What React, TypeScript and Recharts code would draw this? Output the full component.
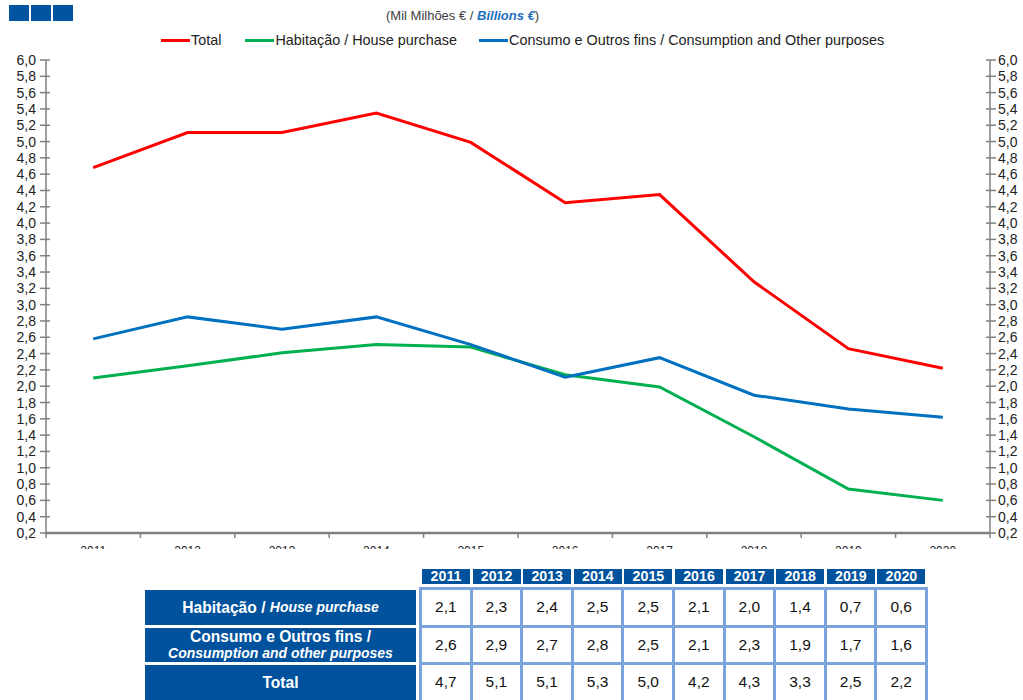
import { LineChart, Line, XAxis, YAxis } from "recharts";

const years = ["2011", "2012", "2013", "2014", "2015", "2016", "2017", "2018", "2019", "2020"];
const totalSeries = [4.68, 5.11, 5.11, 5.35, 4.99, 4.25, 4.35, 3.28, 2.46, 2.22];
const houseSeries = [2.1, 2.25, 2.41, 2.51, 2.48, 2.14, 1.99, 1.38, 0.74, 0.6];
const consumerSeries = [2.58, 2.85, 2.7, 2.85, 2.51, 2.11, 2.35, 1.89, 1.72, 1.62];

const houseTable = [2.1, 2.3, 2.4, 2.5, 2.5, 2.1, 2.0, 1.4, 0.7, 0.6];
const consumerTable = [2.6, 2.9, 2.7, 2.8, 2.5, 2.1, 2.3, 1.9, 1.7, 1.6];
const totalTable = [4.7, 5.1, 5.1, 5.3, 5.0, 4.2, 4.3, 3.3, 2.5, 2.2];

const yTicks = [
  0.2, 0.4, 0.6, 0.8, 1.0, 1.2, 1.4, 1.6, 1.8, 2.0, 2.2, 2.4, 2.6, 2.8, 3.0,
  3.2, 3.4, 3.6, 3.8, 4.0, 4.2, 4.4, 4.6, 4.8, 5.0, 5.2, 5.4, 5.6, 5.8, 6.0,
];

const legendItems = [
  { name: "Total", color: "#ff0000" },
  { name: "Habitação / House purchase", color: "#00b050" },
  { name: "Consumo e Outros fins / Consumption and Other purposes", color: "#0070c0" },
];

const FONT = "'Liberation Sans', Arial, sans-serif";
const AXIS = "#808080";
const NAVY = "#00529c";
const CHART_W = 1023;
const LEFT_W = 46;
const RIGHT_W = 33;
const bandW = (CHART_W - LEFT_W - RIGHT_W) / years.length;

const data = years.map((year, i) => ({
  year,
  total: totalSeries[i],
  house: houseSeries[i],
  consumer: consumerSeries[i],
}));

const fmt = (v: number) => v.toFixed(1).replace(".", ",");

const LeftTick = (props: any) => {
  const { x, y, payload } = props;
  const ax = x + 9;
  return (
    <g>
      <line x1={ax - 6} x2={ax + 4} y1={y} y2={y} stroke={AXIS} strokeWidth={1.5} />
      <text x={x - 1} y={y} dy={5} textAnchor="end" fontSize={14} fill="#222" fontFamily={FONT}>
        {fmt(payload.value)}
      </text>
    </g>
  );
};

const RightTick = (props: any) => {
  const { x, y, payload } = props;
  const ax = x - 7;
  return (
    <g>
      <line x1={ax - 4} x2={ax + 6} y1={y} y2={y} stroke={AXIS} strokeWidth={1.5} />
      <text x={x + 1} y={y} dy={5} textAnchor="start" fontSize={14} fill="#222" fontFamily={FONT}>
        {fmt(payload.value)}
      </text>
    </g>
  );
};

const BottomTick = (props: any) => {
  const { x, y, payload, index } = props;
  const left = x - bandW / 2;
  const right = x + bandW / 2;
  return (
    <g>
      <line x1={left} x2={left} y1={y} y2={y + 5} stroke={AXIS} strokeWidth={1.5} />
      {index === years.length - 1 && (
        <line x1={right} x2={right} y1={y} y2={y + 5} stroke={AXIS} strokeWidth={1.5} />
      )}
      <text x={x} y={y + 22} textAnchor="middle" fontSize={12} fill="#222" fontFamily={FONT}>
        {payload.value}
      </text>
    </g>
  );
};

const labelCell = {
  position: "absolute" as const,
  left: 145,
  width: 271,
  background: NAVY,
  color: "#fff",
  fontFamily: FONT,
  fontWeight: "bold" as const,
  fontSize: 15.6,
  display: "flex",
  flexDirection: "column" as const,
  alignItems: "center",
  justifyContent: "center",
  lineHeight: "17px",
};

export default function App() {
  const rows = [houseTable, consumerTable, totalTable];
  return (
    <div style={{ position: "absolute", left: 0, top: 0, width: 1023, height: 700, background: "#fff", overflow: "hidden" }}>
      {[0, 1, 2].map((i) => (
        <div key={i} style={{ position: "absolute", left: 9 + i * 22, top: 5, width: 20, height: 16, background: "#0054a0" }} />
      ))}
      <div style={{ position: "absolute", left: 386, top: 8, fontFamily: FONT, fontSize: 13, color: "#404040" }}>
        (Mil Milhões € / <span style={{ color: "#1f6fc0", fontWeight: "bold", fontStyle: "italic" }}>Billions €</span>)
      </div>

      <div style={{ position: "absolute", left: 161, top: 32, display: "flex", fontFamily: FONT, fontSize: 14.4, color: "#222" }}>
        {legendItems.map((p, i) => (
          <div key={i} style={{ display: "flex", alignItems: "center", marginRight: i === 0 ? 24 : 22 }}>
            <span style={{ width: 29, height: 3, background: p.color, display: "inline-block", marginRight: 1 }} />
            <span>{p.name}</span>
          </div>
        ))}
      </div>

      <div style={{ position: "absolute", left: 0, top: 0, width: CHART_W, height: 549, overflow: "hidden" }}>
        <LineChart width={CHART_W} height={560} data={data} margin={{ top: 60, right: 0, bottom: 7, left: 0 }}>
          <XAxis
            dataKey="year"
            height={20}
            padding={{ left: bandW / 2, right: bandW / 2 }}
            axisLine={{ stroke: AXIS, strokeWidth: 2.5 }}
            tickLine={false}
            tickSize={0}
            tickMargin={0}
            tick={<BottomTick />}
            interval={0}
          />
          <YAxis
            yAxisId="left"
            width={LEFT_W}
            domain={[0.2, 6.0]}
            ticks={yTicks}
            interval={0}
            allowDataOverflow
            axisLine={{ stroke: AXIS, strokeWidth: 1.5 }}
            tickLine={false}
            tickSize={0}
            tickMargin={9}
            tick={<LeftTick />}
          />
          <YAxis
            yAxisId="right"
            orientation="right"
            width={RIGHT_W}
            domain={[0.2, 6.0]}
            ticks={yTicks}
            interval={0}
            allowDataOverflow
            axisLine={{ stroke: AXIS, strokeWidth: 1.5 }}
            tickLine={false}
            tickSize={0}
            tickMargin={7}
            tick={<RightTick />}
          />
          <Line yAxisId="left" type="linear" dataKey="total" name="Total" stroke="#ff0000" strokeWidth={3} dot={false} isAnimationActive={false} />
          <Line yAxisId="left" type="linear" dataKey="house" name="Habitação / House purchase" stroke="#00b050" strokeWidth={3} dot={false} isAnimationActive={false} />
          <Line yAxisId="right" type="linear" dataKey="consumer" name="Consumo e Outros fins / Consumption and Other purposes" stroke="#0070c0" strokeWidth={3} dot={false} isAnimationActive={false} />
        </LineChart>
      </div>

      {years.map((y, c) => (
        <div
          key={y}
          style={{
            position: "absolute",
            left: 422 + c * 50.6,
            top: 569,
            width: 48,
            height: 15,
            background: NAVY,
            color: "#fff",
            fontFamily: FONT,
            fontWeight: "bold",
            fontSize: 14.2,
            lineHeight: "15px",
            textAlign: "center",
          }}
        >
          {y}
        </div>
      ))}

      <div style={{ ...labelCell, top: 590, height: 35, flexDirection: "row" }}>
        <span>Habitação /&nbsp;</span>
        <span style={{ fontStyle: "italic", fontSize: 14 }}>House purchase</span>
      </div>
      <div style={{ ...labelCell, top: 628, height: 34 }}>
        <span>Consumo e Outros fins /</span>
        <span style={{ fontStyle: "italic", fontSize: 14 }}>Consumption and other purposes</span>
      </div>
      <div style={{ ...labelCell, top: 665, height: 35 }}>
        <span>Total</span>
      </div>

      {rows.map((row, r) =>
        row.map((v, c) => (
          <div
            key={`${r}-${c}`}
            style={{
              position: "absolute",
              left: 419 + c * 50.6,
              top: 587 + r * 37.5,
              width: 53.6,
              height: 40.5,
              boxSizing: "border-box",
              border: "3px solid #7ca4dc",
              background: "#fff",
              display: "flex",
              alignItems: "center",
              justifyContent: "center",
              fontFamily: FONT,
              fontSize: 15.5,
              color: "#111",
            }}
          >
            {fmt(v)}
          </div>
        ))
      )}
    </div>
  );
}
